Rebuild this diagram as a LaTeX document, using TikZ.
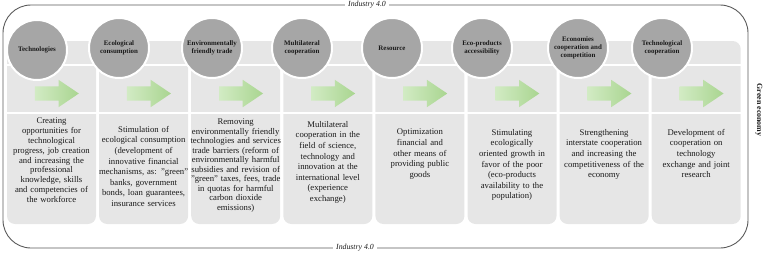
\documentclass[tikz,border=0pt]{standalone}
\usepackage{fontspec}
\setmainfont{Liberation Serif}
\usepackage{xcolor}
\usetikzlibrary{shapes.arrows}
\definecolor{panel-gray}{HTML}{E6E6E6}
\definecolor{circle-gray}{HTML}{A6A6A6}
\definecolor{frame-gray}{HTML}{5A5A5A}
\definecolor{arrow-green}{HTML}{A9D590}
\definecolor{arrow-light}{HTML}{D2EBC4}
\definecolor{ink}{HTML}{1A1A1A}

\begin{document}
\begin{tikzpicture}[x=1pt, y=-1pt,
        panelbox/.style={fill=panel-gray, rounded corners=8pt, minimum width=89pt,
            minimum height=183pt, inner sep=0pt},
        topiccircle/.style={circle, fill=circle-gray, draw=white, line width=2pt,
            minimum size=60pt, inner sep=0pt, align=center, text=ink,
            font=\bfseries\fontsize{6.9}{8}\selectfont},
        flowarrow/.style={single arrow, draw=none, left color=arrow-light, right color=arrow-green,
            minimum height=44pt, inner xsep=0pt, inner ysep=7pt,
            single arrow head extend=6.5pt, single arrow tip angle=68},
        bodytext/.style={anchor=north, text width=92pt, align=center, inner sep=0pt,
            text=ink, font=\fontsize{8.7}{10.6}\selectfont},
        divider/.style={white, line width=1.5pt}]
      \useasboundingbox (0,0) rectangle (768,252);
      % outer frame
      \draw[frame-gray, line width=0.9pt, rounded corners=28pt] (3,5) rectangle (748,248);
      \node[fill=white, inner xsep=3pt, inner ysep=1pt, text=ink,
            font=\itshape\fontsize{7.8}{9}\selectfont] (ind-top) at (367,5) {Industry 4.0};
      \node[fill=white, inner xsep=3pt, inner ysep=1pt, text=ink,
            font=\itshape\fontsize{7.8}{9}\selectfont] (ind-bottom) at (355,248) {Industry 4.0};
      \node[rotate=-90, text=ink, font=\bfseries\fontsize{7.9}{9}\selectfont] (green) at (759,110) {Green economy};
      % columns
      \node[panelbox] (col1) at (51.5,132.5) {};
      \node[panelbox] (col2) at (143.6,132.5) {};
      \node[panelbox] (col3) at (235.7,132.5) {};
      \node[panelbox] (col4) at (327.8,132.5) {};
      \node[panelbox] (col5) at (419.9,132.5) {};
      \node[panelbox] (col6) at (512.0,132.5) {};
      \node[panelbox] (col7) at (604.1,132.5) {};
      \node[panelbox] (col8) at (696.2,132.5) {};
      % white rows inside the columns
      \draw[divider] ([yshift=-24pt]col1.north west) -- ([yshift=-24pt]col8.north east);
      \draw[divider] ([yshift=-72pt]col1.north west) -- ([yshift=-72pt]col8.north east);
      % arrows
      \node[flowarrow] (ar1) at (51.5,93.5) {};
      \node[flowarrow] (ar2) at (143.6,93.5) {};
      \node[flowarrow] (ar3) at (235.7,93.5) {};
      \node[flowarrow] (ar4) at (327.8,93.5) {};
      \node[flowarrow] (ar5) at (419.9,93.5) {};
      \node[flowarrow] (ar6) at (512.0,93.5) {};
      \node[flowarrow] (ar7) at (604.1,93.5) {};
      \node[flowarrow] (ar8) at (696.2,93.5) {};
      % topic circles
      \node[topiccircle] (c1) at (37,50) {Technologies};
      \node[topiccircle] (c2) at (119,48) {Ecological\\consumption};
      \node[topiccircle] (c3) at (212,48) {Environmentally\\friendly trade};
      \node[topiccircle] (c4) at (302,48) {Multilateral\\cooperation};
      \node[topiccircle] (c5) at (392,48) {Resource};
      \node[topiccircle] (c6) at (482,48) {Eco-products\\accessibility};
      \node[topiccircle] (c7) at (578,48) {Economies\\cooperation and\\competition};
      \node[topiccircle] (c8) at (662,48) {Technological\\cooperation};
      % texts
      \node[bodytext, font=\fontsize{8.7}{9.8}\selectfont] (t1) at (51.5,118) {Creating\\opportunities for\\technological\\progress, job creation\\and increasing the\\professional\\knowledge, skills\\and competencies of\\the workforce};
      \node[bodytext] (t2) at (143.6,126) {Stimulation of\\ecological consumption\\(development of\\innovative financial\\mechanisms, as: "green"\\banks, government\\bonds, loan guarantees,\\insurance services};
      \node[bodytext, font=\fontsize{8.7}{9.5}\selectfont] (t3) at (235.7,119) {Removing\\environmentally friendly\\technologies and services\\trade barriers (reform of\\environmentally harmful\\subsidies and revision of\\"green" taxes, fees, trade\\in quotas for harmful\\carbon dioxide\\emissions)};
      \node[bodytext] (t4) at (327.8,121) {Multilateral\\cooperation in the\\field of science,\\technology and\\innovation at the\\international level\\(experience\\exchange)};
      \node[bodytext] (t5) at (419.9,129) {Optimization\\financial and\\other means of\\providing public\\goods};
      \node[bodytext] (t6) at (512.0,129) {Stimulating\\ecologically\\oriented growth in\\favor of the poor\\(eco-products\\availability to the\\population)};
      \node[bodytext] (t7) at (604.1,129) {Strengthening\\interstate cooperation\\and increasing the\\competitiveness of the\\economy};
      \node[bodytext] (t8) at (696.2,129) {Development of\\cooperation on\\technology\\exchange and joint\\research};
    \end{tikzpicture}
\end{document}
